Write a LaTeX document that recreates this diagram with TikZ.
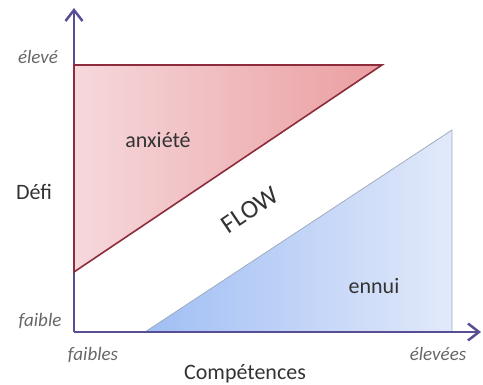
\documentclass[tikz,border=0pt]{standalone}
\usepackage{fontspec}
\setmainfont{Carlito}
\usetikzlibrary{arrows.meta}
\definecolor{axisblue}{RGB}{88,78,148}
\definecolor{anxred}{RGB}{140,44,60}
\definecolor{anxleft}{RGB}{246,216,220}
\definecolor{anxright}{RGB}{234,158,160}
\definecolor{ennblue}{RGB}{160,172,192}
\definecolor{ennleft}{RGB}{160,190,244}
\definecolor{ennright}{RGB}{226,233,250}

\begin{document}
\begin{tikzpicture}[x=1pt,y=1pt,
      lbl/.style={font=\fontsize{22}{24}\selectfont, text=black!80},
      tick/.style={font=\fontsize{19}{21}\selectfont\itshape, text=black!60},
      axis/.style={line width=2.5pt, axisblue,
                   -{Straight Barb[length=11pt,width=17pt]}}]
      \useasboundingbox (0,0) rectangle (483,385);
      % axes and zones
      \coordinate (o) at (74,53);
      \coordinate (ytop) at (74,377);
      \coordinate (xend) at (481,53);
      \coordinate (a1) at (74,320);
      \coordinate (a2) at (382,320);
      \coordinate (a3) at (74,113);
      \coordinate (e1) at (145,53);
      \coordinate (e2) at (452,53);
      \coordinate (e3) at (452,255);
      \shade[left color=ennleft, right color=ennright, draw=ennblue, line width=0.8pt]
        (e1) -- (e2) -- (e3) -- cycle;
      \draw[axis] (o) -- (ytop);
      \draw[axis] (o) -- (xend);
      \shade[left color=anxleft, right color=anxright, draw=anxred, line width=1.6pt]
        (a1) -- (a2) -- (a3) -- cycle;
      % labels
      \node[tick] (high) at (38,328) {élevé};
      \node[tick] (low) at (40,64) {faible};
      \node[tick] (lows) at (93,30) {faibles};
      \node[tick] (highs) at (438,31) {élevées};
      \node[lbl] (defi) at (34,193) {Défi};
      \node[lbl] (comp) at (245,11) {Compétences};
      \node[lbl] (anx) at (158,245) {anxiété};
      \node[lbl] (ennui) at (374,99) {ennui};
      \node[lbl, font=\fontsize{26}{28}\selectfont, rotate=34] (flow) at (250,175) {FLOW};
    \end{tikzpicture}
\end{document}
